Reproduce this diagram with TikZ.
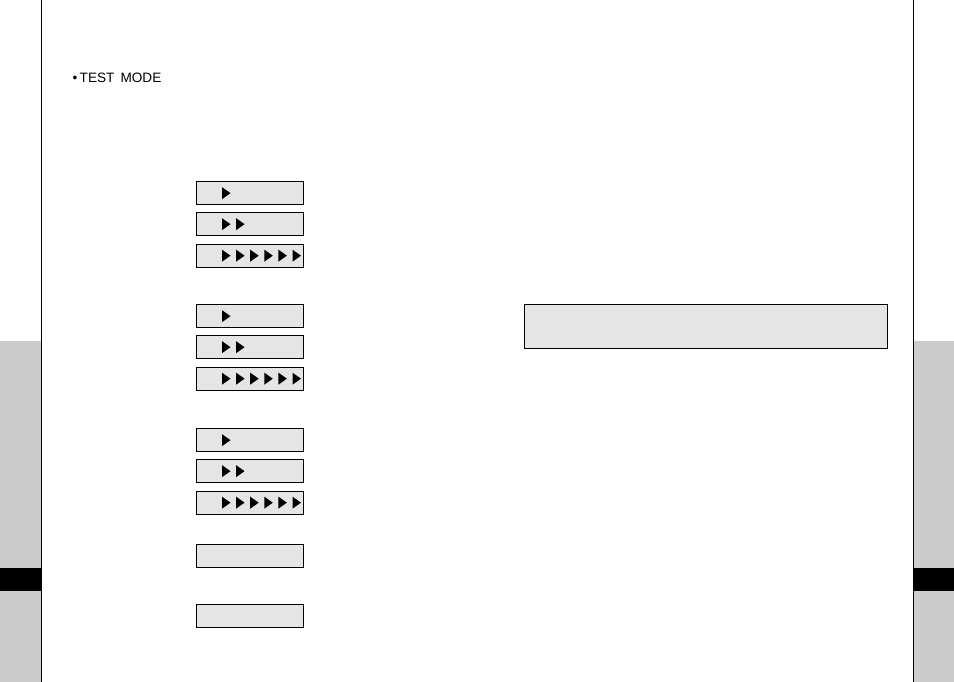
\documentclass[tikz,border=0pt]{standalone}
\usepackage{fontspec}
\setmainfont{Liberation Sans}
\begin{document}
\begin{tikzpicture}[x=1pt,y=-1pt,
  lcd/.style={draw=black,line width=1.35pt,fill=boxgray,minimum width=107,minimum height=23,inner sep=0pt,anchor=north west}]
\definecolor{boxgray}{HTML}{E5E5E5}
\definecolor{sidegray}{HTML}{CCCCCC}
\useasboundingbox (0,0) rectangle (954,682);
\fill[white] (0,0) rectangle (954,682);
% side tabs
\fill[sidegray] (0,341) rectangle (41.5,682);
\fill[black] (0,568) rectangle (41.5,591);
\fill[sidegray] (913.5,341) rectangle (954,682);
\fill[black] (913.5,568) rectangle (954,591);
\draw[line width=1.4pt] (41.3,0) -- (41.3,682);
\draw[line width=1.4pt] (913.5,0) -- (913.5,682);
% title
\node[anchor=west,font=\fontsize{13.6}{15}\selectfont,inner sep=0pt] (title) at (72.5,77.5) {•\,TEST\, MODE};
% boxes
\foreach \n/\y in {a1/181,a2/212,a3/243.5,b1/304,b2/335,b3/366.5,c1/428,c2/459,c3/490.5,d1/544,d2/604}{
  \node[lcd] (\n) at (196,\y) {};
}
% big box
\node[lcd,minimum width=363,minimum height=44] (big) at (523.5,303.5) {};
% triangles
\foreach \n/\k in {a1/1,a2/2,a3/6,b1/1,b2/2,b3/6,c1/1,c2/2,c3/6}{
  \foreach \i in {1,...,\k}{
    \fill[black,shift={(\n.west)}] ({26+(\i-1)*14.1},-6) -- ++(8.5,6) -- ++(-8.5,6) -- cycle;
  }
}
\end{tikzpicture}
\end{document}
